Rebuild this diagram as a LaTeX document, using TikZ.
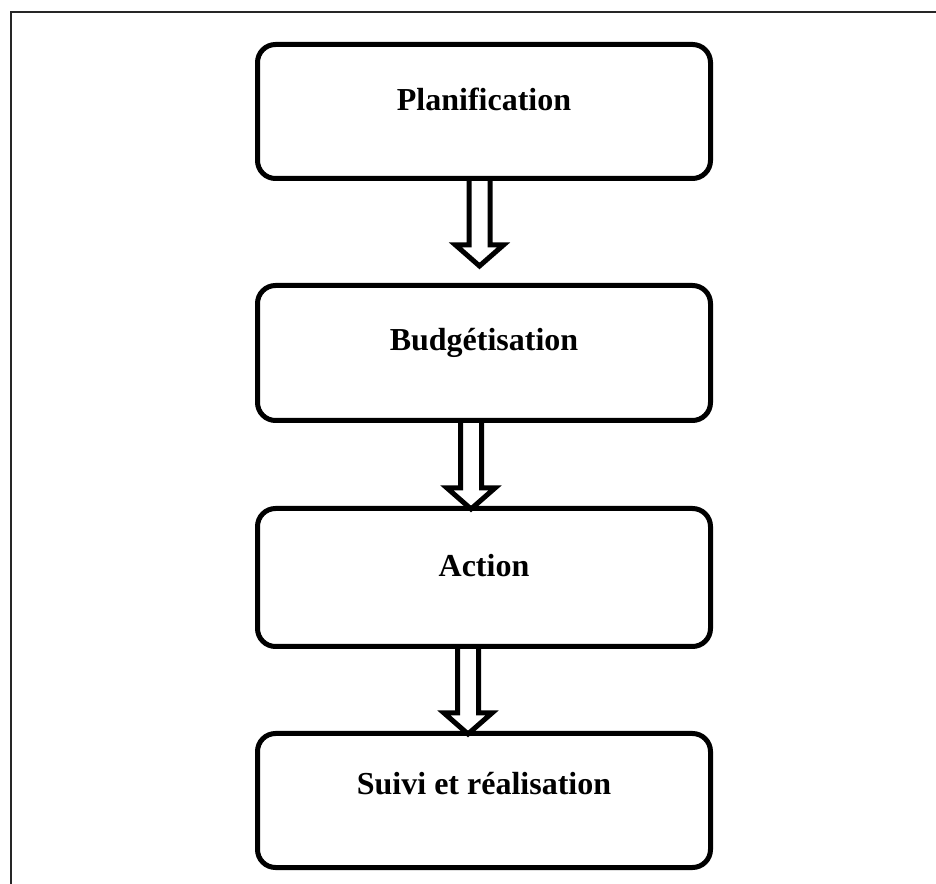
\documentclass[tikz,border=0pt]{standalone}
\usepackage{fontspec}
\setmainfont{Liberation Serif}
\usetikzlibrary{calc}

% hollow block arrow pointing down: #1 = shaft start, #2 = tip
\newcommand{\hollowarrow}[2]{%
  \draw[hollow] let \p1=(#1), \p2=(#2) in
    (\x1-10.5,\y1) -- (\x1-10.5,\y2+21) -- (\x1-24,\y2+21) -- (\x1,\y2)
    -- (\x1+24,\y2+21) -- (\x1+10.5,\y2+21) -- (\x1+10.5,\y1);}

\begin{document}
\begin{tikzpicture}[x=1pt,y=1pt,
  stage/.style={draw=black, line width=5pt, rounded corners=18pt,
    minimum width=453pt, minimum height=134pt, inner sep=0pt},
  caption/.style={anchor=base, font=\bfseries\fontsize{32}{38}\selectfont},
  hollow/.style={draw=black, line width=5pt, line join=miter},
  frame/.style={draw=black!85, line width=2pt}]
  \useasboundingbox (0,0) rectangle (936,883);

  % page frame (top and left sides)
  \draw[frame] (10.5,-5) -- (10.5,871) -- (945,871);

  % stages
  \node[stage] (p1) at (484,771.5) {};
  \node[stage, minimum height=135pt] (p2) at (484,530) {};
  \node[stage, minimum height=138pt] (p3) at (484,305.5) {};
  \node[stage] (p4) at (484,82.5) {};

  \node[caption] (t1) at ($(p1.north)+(0,-68.5)$) {Planification};
  \node[caption] (t2) at ($(p2.north)+(0,-68)$) {Budgétisation};
  \node[caption] (t3) at ($(p3.north)+(0,-71)$) {Action};
  \node[caption] (t4) at ($(p4.north)+(0,-63)$) {Suivi et réalisation};

  % arrows between stages
  \coordinate (a1s) at ($(p1.south)+(-4.5,0)$);
  \coordinate (a1e) at ($(p2.north)+(-4.5,17)$);
  \coordinate (a2s) at ($(p2.south)+(-13,0)$);
  \coordinate (a2e) at ($(p3.north)+(-13,-3)$);
  \coordinate (a3s) at ($(p3.south)+(-16,0)$);
  \coordinate (a3e) at ($(p4.north)+(-16,-3)$);
  \hollowarrow{a1s}{a1e}
  \hollowarrow{a2s}{a2e}
  \hollowarrow{a3s}{a3e}
\end{tikzpicture}
\end{document}
